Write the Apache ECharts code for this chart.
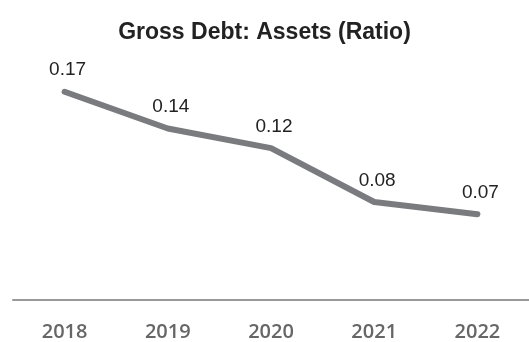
<!DOCTYPE html>
<html>
<head>
<meta charset="utf-8">
<script src="https://cdn.jsdelivr.net/npm/echarts@6/dist/echarts.min.js"></script>
<style>
  html, body { margin: 0; padding: 0; background: #fff; }
  #chart { width: 529px; height: 342px; }
</style>
</head>
<body>
<div id="chart"></div>
<script>
// data
var years = ['2018', '2019', '2020', '2021', '2022'];
var ratio = [0.17, 0.14, 0.124, 0.08, 0.07];

var myChart = echarts.init(document.getElementById('chart'));

var option = {
    animation: false,
    title: {
        text: 'Gross Debt: Assets (Ratio)',
        left: 'center',
        top: 16,
        textStyle: {
            fontFamily: 'Liberation Sans',
            fontWeight: 'bold',
            fontSize: 23,
            color: '#222'
        }
    },
    grid: {
        left: 13,
        right: 0,
        top: 55,
        bottom: 41
    },
    xAxis: {
        type: 'category',
        data: years,
        axisLine: { lineStyle: { color: '#999', width: 2 } },
        axisTick: { show: false },
        axisLabel: {
            margin: 22,
            fontFamily: 'Open Sans',
            fontWeight: 600,
            fontSize: 20,
            color: '#666'
        }
    },
    yAxis: {
        type: 'value',
        min: 0,
        max: 0.2,
        show: false
    },
    series: [{
        type: 'line',
        data: ratio,
        symbol: 'circle',
        symbolSize: 0,
        lineStyle: { color: '#7a7b7f', width: 6, cap: 'round', join: 'round' },
        itemStyle: { color: '#7a7b7f' },
        label: {
            show: true,
            position: 'top',
            distance: 12,
            offset: [3, 0],
            fontFamily: 'Liberation Sans',
            fontSize: 19,
            color: '#222',
            formatter: function (p) { return p.value.toFixed(2); }
        }
    }]
};

myChart.setOption(option);
</script>
</body>
</html>
